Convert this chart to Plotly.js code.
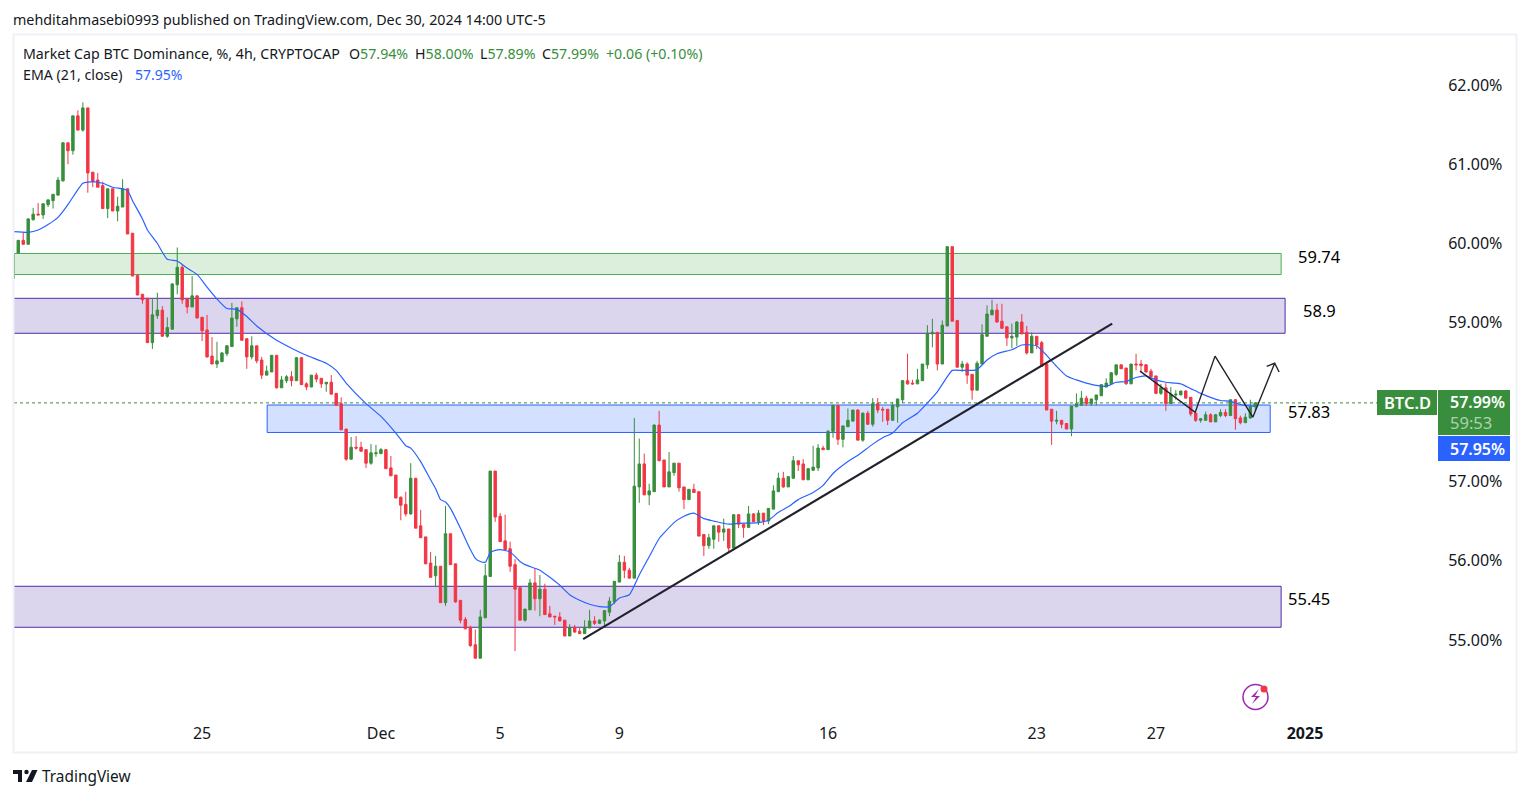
<!DOCTYPE html>
<html>
<head>
<meta charset="utf-8">
<script src="https://cdn.plot.ly/plotly-3.0.1.min.js"></script>
<style>
html, body { margin: 0; padding: 0; background: #fff; }
#chart { width: 1530px; height: 798px; }
</style>
</head>
<body>
<div id="chart"></div>
<script>
// BTC.D 4h candles, oldest first
var opens = [
    59.56,59.88,60.04,59.99,60.30,60.37,60.36,60.49,60.54,60.61,
    60.79,61.27,61.17,61.61,61.43,61.71,60.90,60.80,60.73,60.44,
    60.69,60.41,60.46,60.69,60.13,59.60,59.36,59.31,58.75,59.09,
    59.16,58.83,58.92,59.48,59.70,59.30,59.20,59.34,59.07,58.91,
    58.58,58.48,58.51,58.61,58.70,59.05,59.19,58.80,58.57,58.71,
    58.53,58.34,58.38,58.59,58.18,58.27,58.32,58.27,58.56,58.23,
    58.19,58.34,58.30,58.23,58.25,58.11,57.98,57.66,57.28,57.43,
    57.43,57.40,57.23,57.35,57.35,57.40,57.17,57.08,56.80,56.71,
    56.59,57.04,56.44,56.30,55.97,55.81,55.93,55.47,56.34,55.96,
    55.50,55.26,55.16,54.94,54.77,55.28,55.80,57.13,56.56,56.25,
    56.15,55.95,55.66,55.25,55.38,55.72,55.52,55.64,55.33,55.30,
    55.29,55.25,55.05,55.16,55.11,55.08,55.15,55.24,55.21,55.24,
    55.35,55.48,55.73,55.98,55.88,55.78,56.93,57.22,56.83,56.87,
    57.71,57.27,56.93,57.11,57.23,56.93,56.77,56.90,56.87,56.33,
    56.19,56.27,56.44,56.36,56.40,56.16,56.58,56.46,56.42,56.59,
    56.49,56.60,56.50,56.65,56.87,57.04,56.93,57.04,57.26,57.22,
    57.02,57.14,57.17,57.42,57.40,57.63,57.96,57.53,57.69,57.76,
    57.90,57.52,57.86,57.72,57.98,57.91,57.91,57.77,57.94,58.03,
    58.27,58.24,58.23,58.27,58.47,58.86,58.88,58.48,58.96,59.96,
    59.03,58.44,58.48,58.35,58.15,58.48,58.83,59.10,59.16,59.02,
    58.95,58.81,58.82,59.01,58.88,58.62,58.83,58.75,58.48,57.91,
    57.76,57.77,57.73,57.66,57.94,57.96,58.05,57.98,58.03,58.08,
    58.19,58.23,58.35,58.47,58.43,58.23,58.48,58.48,58.47,58.39,
    58.33,58.11,58.18,57.98,58.09,58.09,58.14,58.06,57.86,57.77,
    57.77,57.84,57.75,57.83,57.87,57.83,58.03,57.80,57.74,57.80,
    57.94
];
var highs = [
    59.88,60.04,60.14,60.32,60.45,60.51,60.51,60.56,60.62,60.84,
    61.28,61.27,61.61,61.68,61.78,61.71,60.90,60.89,60.78,60.69,
    60.69,60.59,60.81,60.69,60.13,59.60,59.36,59.31,59.31,59.38,
    59.21,59.07,59.50,59.95,59.73,59.30,59.59,59.34,59.07,59.10,
    58.82,58.76,58.63,58.72,59.25,59.19,59.27,58.80,58.83,58.71,
    58.57,58.46,58.59,58.59,58.33,58.34,58.39,58.57,58.56,58.25,
    58.34,58.37,58.30,58.25,58.34,58.11,58.06,57.66,57.56,57.57,
    57.50,57.40,57.47,57.46,57.42,57.40,57.32,57.08,56.81,56.87,
    57.23,57.04,56.64,56.30,56.11,56.06,55.93,56.69,56.34,55.96,
    55.50,55.29,55.18,55.13,55.38,55.96,57.13,57.13,56.60,56.58,
    56.24,56.02,55.66,55.39,55.77,55.90,55.82,55.71,55.43,55.30,
    55.35,55.25,55.20,55.19,55.15,55.25,55.38,55.30,55.26,55.37,
    55.54,55.74,56.07,56.06,55.91,57.80,57.54,57.35,56.97,57.72,
    57.89,57.27,57.37,57.23,57.23,56.93,56.90,56.97,56.87,56.33,
    56.34,56.44,56.44,56.53,56.40,56.58,56.59,56.46,56.69,56.60,
    56.64,56.60,56.66,56.95,57.11,57.12,57.06,57.32,57.26,57.28,
    57.17,57.45,57.47,57.45,57.65,57.96,57.96,57.70,57.92,57.90,
    57.91,57.87,57.89,58.05,58.05,57.94,57.91,58.00,58.04,58.28,
    58.61,58.28,58.42,58.48,58.97,59.05,58.88,59.03,59.96,59.96,
    59.03,58.52,58.50,58.35,58.52,58.98,59.22,59.29,59.24,59.24,
    58.95,58.99,59.02,59.11,58.96,58.88,58.83,58.77,58.48,57.91,
    57.89,57.77,57.73,57.95,58.11,58.14,58.08,58.04,58.09,58.22,
    58.30,58.38,58.47,58.47,58.43,58.48,58.61,58.53,58.48,58.42,
    58.33,58.23,58.24,58.19,58.15,58.14,58.15,58.06,57.86,57.80,
    57.88,57.86,57.85,57.91,57.91,58.03,58.04,57.83,57.86,58.03,
    58.00
];
var lows = [
    59.56,59.88,59.99,59.99,60.29,60.36,60.31,60.46,60.44,60.61,
    60.78,61.00,61.12,61.43,61.41,60.64,60.71,60.71,60.44,60.32,
    60.41,60.28,60.46,60.12,59.59,59.35,59.24,58.75,58.67,59.05,
    58.83,58.81,58.91,59.36,59.24,59.12,59.20,59.06,58.77,58.56,
    58.48,58.43,58.51,58.58,58.70,58.95,58.78,58.42,58.54,58.49,
    58.29,58.34,58.38,58.17,58.18,58.24,58.20,58.27,58.22,58.15,
    58.19,58.25,58.18,58.13,58.10,57.96,57.65,57.26,57.28,57.40,
    57.38,57.17,57.21,57.31,57.35,57.16,57.07,56.79,56.51,56.56,
    56.58,56.41,56.29,55.96,55.79,55.68,55.47,55.43,55.95,55.47,
    55.21,55.14,54.91,54.77,54.77,55.28,55.80,56.49,56.24,56.14,
    55.86,54.86,55.25,55.23,55.38,55.37,55.30,55.32,55.29,55.19,
    55.24,55.05,55.05,55.09,55.08,55.08,55.15,55.19,55.20,55.16,
    55.30,55.45,55.73,55.78,55.78,55.78,56.73,56.83,56.70,56.87,
    57.26,56.93,56.93,57.07,56.87,56.65,56.77,56.86,56.31,56.06,
    56.15,56.15,56.24,56.25,56.11,56.16,56.41,56.29,56.42,56.49,
    56.45,56.45,56.46,56.65,56.87,56.92,56.93,57.03,57.13,57.02,
    57.02,57.14,57.13,57.40,57.40,57.55,57.46,57.43,57.69,57.76,
    57.52,57.50,57.72,57.69,57.86,57.75,57.71,57.77,57.74,57.99,
    58.22,58.22,58.23,58.27,58.42,58.69,58.40,58.48,58.96,59.02,
    58.44,58.38,58.23,58.03,58.15,58.48,58.83,59.10,59.00,58.93,
    58.71,58.68,58.71,58.86,58.60,58.62,58.67,58.45,57.90,57.46,
    57.72,57.67,57.66,57.57,57.94,57.96,57.95,57.95,57.96,58.08,
    58.19,58.23,58.33,58.42,58.22,58.23,58.40,58.38,58.37,58.30,
    58.10,58.09,57.89,57.98,58.03,58.09,58.05,57.82,57.75,57.74,
    57.77,57.75,57.75,57.81,57.81,57.83,57.65,57.72,57.74,57.79,
    57.89
];
var closes = [
    59.88,60.04,59.99,60.31,60.37,60.36,60.50,60.55,60.62,60.80,
    61.27,61.17,61.61,61.43,61.71,60.89,60.78,60.71,60.44,60.69,
    60.41,60.47,60.69,60.12,59.59,59.35,59.29,58.75,59.10,59.16,
    58.83,58.94,59.49,59.70,59.29,59.20,59.34,59.06,58.90,58.57,
    58.48,58.52,58.62,58.71,59.06,59.19,58.78,58.57,58.71,58.52,
    58.34,58.39,58.59,58.18,58.28,58.32,58.27,58.56,58.22,58.19,
    58.34,58.29,58.23,58.25,58.10,57.96,57.65,57.28,57.43,57.42,
    57.38,57.23,57.36,57.36,57.40,57.16,57.07,56.79,56.70,56.59,
    57.04,56.41,56.29,55.96,55.79,55.93,55.47,56.34,55.95,55.48,
    55.25,55.14,54.93,54.77,55.29,55.81,57.13,56.55,56.24,56.14,
    55.93,55.64,55.25,55.39,55.72,55.52,55.64,55.32,55.29,55.29,
    55.24,55.05,55.15,55.10,55.08,55.16,55.24,55.21,55.25,55.37,
    55.49,55.74,55.98,55.88,55.78,56.94,57.22,56.83,56.88,57.71,
    57.26,56.93,57.12,57.23,56.92,56.77,56.90,56.86,56.31,56.19,
    56.29,56.44,56.36,56.40,56.16,56.58,56.46,56.42,56.59,56.49,
    56.60,56.50,56.66,56.88,57.04,56.93,57.06,57.26,57.21,57.02,
    57.16,57.18,57.42,57.40,57.63,57.96,57.53,57.70,57.77,57.90,
    57.52,57.86,57.72,57.98,57.90,57.90,57.77,57.96,58.04,58.27,
    58.23,58.23,58.28,58.48,58.87,58.88,58.48,58.97,59.96,59.02,
    58.44,58.48,58.34,58.15,58.49,58.85,59.11,59.16,59.01,58.93,
    58.81,58.83,59.01,58.86,58.62,58.83,58.72,58.45,57.90,57.76,
    57.77,57.72,57.66,57.95,57.98,58.05,57.98,58.04,58.09,58.22,
    58.24,58.37,58.47,58.42,58.23,58.48,58.47,58.46,58.38,58.32,
    58.11,58.18,57.98,58.10,58.10,58.14,58.05,57.85,57.77,57.79,
    57.84,57.75,57.84,57.87,57.83,58.03,57.79,57.74,57.81,57.94,
    57.99
];

// EMA (21, close), sampled along the line: bar number and value
var emaBars = [
    1,4,6,8,10,12,14,15,17,19,21,23,24,25,27,28,30,32,34,36,
    38,40,42,44,46,48,50,54,57,60,64,66,68,72,75,78,80,81,83,85,
    86,87,88,89,91,93,94,95,96,97,98,99,101,103,104,107,109,111,113,115,
    117,119,121,123,125,127,129,131,132,134,136,138,140,142,145,147,151,153,155,157,
    159,162,164,166,169,171,174,176,178,180,183,185,187,189,190,192,194,195,197,199,
    202,204,206,207,209,211,213,215,217,219,221,223,225,227,229,231,233,236,238,240,
    242,244,246,248,250,251
];
var emaValues = [
    60.15,60.14,60.17,60.24,60.33,60.49,60.68,60.76,60.78,60.76,60.71,60.69,60.67,60.54,60.31,60.17,60.00,59.80,59.78,59.69,
    59.61,59.45,59.30,59.18,59.17,59.08,58.96,58.78,58.68,58.59,58.49,58.40,58.24,57.98,57.82,57.61,57.45,57.42,57.25,57.02,
    56.91,56.77,56.74,56.66,56.41,56.14,56.03,55.99,55.98,56.10,56.13,56.14,56.11,55.99,55.95,55.88,55.79,55.69,55.57,55.50,
    55.45,55.42,55.42,55.53,55.57,55.82,56.05,56.28,56.35,56.48,56.56,56.60,56.53,56.50,56.46,56.47,56.48,56.51,56.61,56.68,
    56.77,56.86,56.95,57.10,57.25,57.33,57.47,57.55,57.61,57.74,57.86,57.99,58.13,58.32,58.40,58.40,58.40,58.41,58.53,58.61,
    58.66,58.72,58.72,58.71,58.59,58.45,58.33,58.28,58.24,58.21,58.20,58.25,58.26,58.31,58.33,58.28,58.25,58.23,58.17,58.11,
    58.06,58.02,58.01,57.97,57.95,57.95
];

var priceTicks = [55, 56, 57, 59, 60, 61, 62];
var priceTickText = ['55.00%', '56.00%', '57.00%', '59.00%', '60.00%', '61.00%', '62.00%'];
var dateTicks = ['2024-11-25 03:00', '2024-12-01 03:00', '2024-12-05 03:00', '2024-12-09 03:00',
    '2024-12-16 03:00', '2024-12-23 03:00', '2024-12-27 03:00', '2025-01-01 03:00'];
var dateTickText = ['25', 'Dec', '5', '9', '16', '23', '27', '<b>2025</b>'];

var lastPrice = 57.99;

// drawings on the chart, x as bar number
var trendBars = [115.7, 222.2];
var trendPrices = [55.01, 58.99];
var zigzagBars = [227.8, 238.9, 242.9, 250.5, 254.9];
var zigzagPrices = [58.39, 57.87, 58.58, 57.81, 58.49];
var arrowBars = [253.3, 254.9, 255.8];
var arrowPrices = [58.45, 58.49, 58.38];

var FONT = '"Noto Sans", sans-serif';
var DARK = '#131722';
var GREEN = '#388e3c';
var RED = '#f23645';
var BLUE = '#2962ff';

// plot area in page pixels
var PL = 14, PR = 1437, PT = 36, PB = 718;

function barTime(n) {
    var ms = Date.UTC(2024, 10, 18, 19) + (n - 1) * 4 * 3600000;
    return new Date(ms).toISOString().slice(0, 16).replace('T', ' ');
}
function paperX(x) { return (x - PL) / (PR - PL); }
function paperY(y) { return (PB - y) / (PB - PT); }

var barDates = opens.map(function (v, i) { return barTime(i + 1); });

var candles = {
    type: 'candlestick',
    x: barDates,
    open: opens,
    high: highs,
    low: lows,
    close: closes,
    increasing: { line: { color: GREEN, width: 1 }, fillcolor: GREEN },
    decreasing: { line: { color: RED, width: 1 }, fillcolor: RED },
    whiskerwidth: 0,
    hoverinfo: 'skip',
    showlegend: false
};

var ema = {
    type: 'scatter',
    mode: 'lines',
    x: emaBars.map(barTime),
    y: emaValues,
    line: { color: BLUE, width: 1.2, shape: 'spline', smoothing: 0.5 },
    hoverinfo: 'skip',
    showlegend: false
};

var trend = {
    type: 'scatter',
    mode: 'lines',
    x: trendBars.map(barTime),
    y: trendPrices,
    line: { color: '#22222c', width: 2.2 },
    hoverinfo: 'skip',
    showlegend: false
};

var zigzag = {
    type: 'scatter',
    mode: 'lines',
    x: zigzagBars.map(barTime),
    y: zigzagPrices,
    line: { color: '#22222c', width: 1.4 },
    hoverinfo: 'skip',
    showlegend: false
};

var arrowHead = {
    type: 'scatter',
    mode: 'lines',
    x: arrowBars.map(barTime),
    y: arrowPrices,
    line: { color: '#22222c', width: 1.4 },
    hoverinfo: 'skip',
    showlegend: false
};

function zone(b0, b1, p0, p1, color, fill) {
    return {
        type: 'rect', xref: 'x', yref: 'y', layer: 'below',
        x0: barTime(b0), x1: barTime(b1), y0: p0, y1: p1,
        line: { color: color, width: 1 }, fillcolor: fill
    };
}
function pageRect(x0, y0, x1, y1, fill, line) {
    return {
        type: 'rect', xref: 'paper', yref: 'paper',
        x0: paperX(x0), x1: paperX(x1), y0: paperY(y0), y1: paperY(y1),
        fillcolor: fill, line: line || { width: 0 }
    };
}
function pagePath(points, fill, line) {
    var d = points.map(function (p, i) {
        return (i ? 'L' : 'M') + paperX(p[0]) + ',' + paperY(p[1]);
    }).join(' ');
    return {
        type: 'path', xref: 'paper', yref: 'paper', path: d,
        fillcolor: fill, line: line || { width: 0 }
    };
}
function pageCircle(cx, cy, r, fill, line) {
    return {
        type: 'circle', xref: 'paper', yref: 'paper',
        x0: paperX(cx - r), x1: paperX(cx + r), y0: paperY(cy + r), y1: paperY(cy - r),
        fillcolor: fill, line: line || { width: 0 }
    };
}
// annotations sit about 2px inside their anchor, so take that back here
function label(x, y, text, size, color, anchor, weight) {
    var nudge = anchor === 'right' ? 2 : (anchor === 'center' ? 0 : -2);
    return {
        xref: 'paper', yref: 'paper', x: paperX(x + nudge), y: paperY(y),
        text: text, showarrow: false, xanchor: anchor || 'left', yanchor: 'middle',
        font: { family: FONT, size: size, color: color, weight: weight || 400 }
    };
}
function coloured(color, text) {
    return '<span style="color:' + color + '">' + text + '</span>';
}

var shapes = [
    pageRect(13.5, 34.5, 1516.5, 752.5, 'rgba(0,0,0,0)', { color: '#eff1f7', width: 2 }),
    zone(1, 256.2, 59.609, 59.874, '#4caf50', 'rgba(76,175,80,0.2)'),
    zone(1, 257, 58.868, 59.309, '#512da8', 'rgba(81,45,168,0.2)'),
    zone(52.1, 254, 57.617, 57.963, BLUE, 'rgba(41,98,255,0.2)'),
    zone(1, 256.2, 55.16, 55.677, '#512da8', 'rgba(81,45,168,0.2)'),
    {
        type: 'line', xref: 'paper', yref: 'y', x0: 0, x1: paperX(1377), y0: lastPrice, y1: lastPrice,
        layer: 'below', line: { color: GREEN, width: 1, dash: 'dot' }
    },
    pageRect(1377, 390, 1437, 415, GREEN),
    pageRect(1438, 390, 1510, 435, GREEN),
    pageRect(1438, 436, 1510, 461, BLUE),
    // flash icon
    pageCircle(1255.5, 697, 12.5, 'rgba(0,0,0,0)', { color: '#9c27b0', width: 1.5 }),
    pagePath([[1259, 689], [1251, 697], [1256, 697], [1252, 704], [1260, 696], [1255, 696]], '#9c27b0'),
    pageCircle(1264, 689, 3.5, RED),
    // logo
    pagePath([[13, 770], [22, 770], [22, 782], [18, 782], [18, 774], [13, 774]], DARK),
    pageCircle(26.5, 772, 2.2, DARK),
    pagePath([[32, 770], [37.5, 770], [32, 782], [26, 782]], DARK)
];

var annotations = [
    label(13, 19.5, 'mehditahmasebi0993 published on TradingView.com, Dec 30, 2024 14:00 UTC-5', 14.3, DARK),
    label(23, 54, 'Market Cap BTC Dominance, %, 4h, CRYPTOCAP', 14.2, DARK),
    label(349, 54, 'O' + coloured(GREEN, '57.94%'), 14.2, DARK),
    label(415, 54, 'H' + coloured(GREEN, '58.00%'), 14.2, DARK),
    label(480, 54, 'L' + coloured(GREEN, '57.89%'), 14.2, DARK),
    label(542, 54, 'C' + coloured(GREEN, '57.99%'), 14.2, DARK),
    label(606, 54, coloured(GREEN, '+0.06 (+0.10%)'), 14.2, DARK),
    label(23, 75, 'EMA (21, close)', 14.2, DARK),
    label(135, 75, coloured(BLUE, '57.95%'), 14, DARK),
    label(1298, 256, '59.74', 16.5, '#000000'),
    label(1303, 310, '58.9', 16.5, '#000000'),
    label(1288, 411.5, '57.83', 16.5, '#000000'),
    label(1288, 598, '55.45', 16.5, '#000000'),
    label(1407, 402, 'BTC.D', 16.5, '#ffffff', 'center', 600),
    label(1505, 402, '57.99%', 16, '#ffffff', 'right', 600),
    label(1450, 423, '59:53', 16.5, 'rgba(255,255,255,0.6)'),
    label(1505, 449, '57.95%', 16, '#ffffff', 'right', 600),
    label(42, 776, 'TradingView', 15.4, DARK)
];

var layout = {
    width: 1530,
    height: 798,
    margin: { l: PL, r: 1530 - PR, t: PT, b: 798 - PB, pad: 0 },
    paper_bgcolor: '#ffffff',
    plot_bgcolor: '#ffffff',
    showlegend: false,
    font: { family: FONT, color: DARK, size: 16 },
    dragmode: false,
    xaxis: {
        type: 'date',
        range: ['2024-11-18 19:34', '2025-01-05 13:18'],
        rangeslider: { visible: false },
        tickmode: 'array',
        tickvals: dateTicks,
        ticktext: dateTickText,
        showgrid: false,
        zeroline: false,
        showline: false,
        ticks: 'outside',
        ticklen: 1,
        tickcolor: 'rgba(0,0,0,0)',
        tickfont: { family: FONT, size: 16, color: DARK }
    },
    yaxis: {
        side: 'right',
        range: [54.016, 62.617],
        tickmode: 'array',
        tickvals: priceTicks,
        ticktext: priceTickText,
        showgrid: false,
        zeroline: false,
        showline: false,
        ticks: 'outside',
        ticklen: 7,
        tickcolor: 'rgba(0,0,0,0)',
        tickfont: { family: FONT, size: 16, color: DARK }
    },
    shapes: shapes,
    annotations: annotations
};

Plotly.newPlot('chart', [candles, ema, trend, zigzag, arrowHead], layout, { displayModeBar: false, staticPlot: true });
</script>
</body>
</html>
